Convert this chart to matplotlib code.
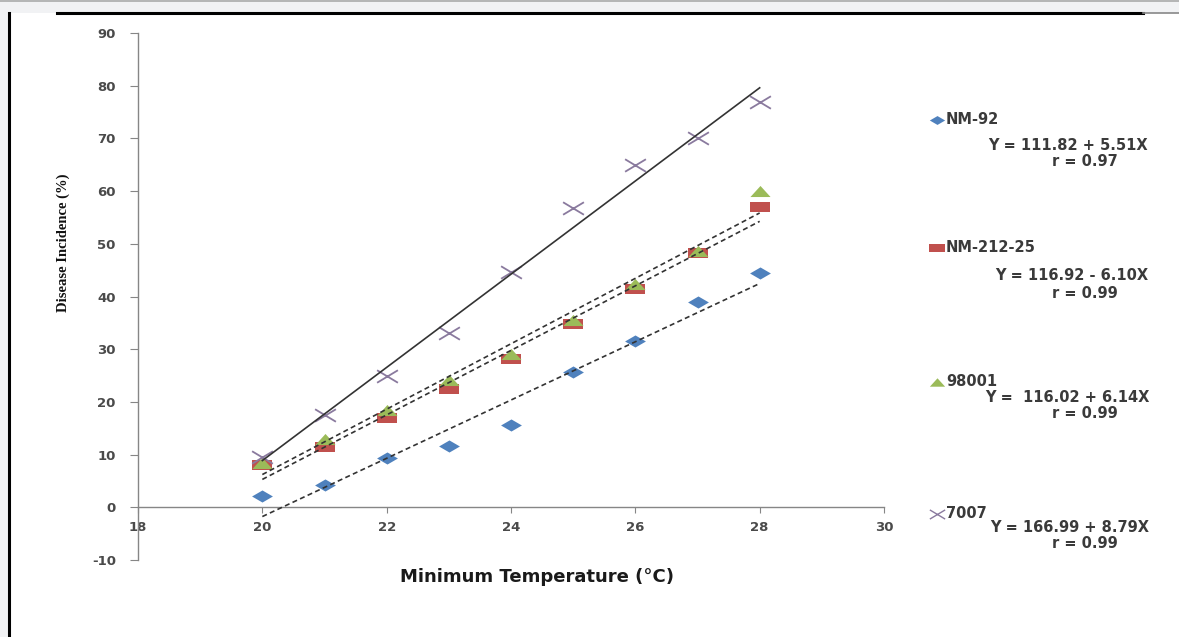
import numpy as np
import matplotlib
matplotlib.use("Agg")
import matplotlib.pyplot as plt
from matplotlib.lines import Line2D
from matplotlib.path import Path

plt.rcParams["axes.unicode_minus"] = False

temps = [20, 21, 22, 23, 24, 25, 26, 27, 28]
nm92 = [2.1, 4.2, 9.3, 11.6, 15.6, 25.6, 31.5, 38.9, 44.4]
nm21225 = [8.0, 11.4, 16.9, 22.4, 28.1, 34.7, 41.4, 48.2, 56.9]
v98001 = [8.5, 12.9, 18.4, 24.1, 29.0, 35.5, 42.3, 48.6, 60.0]
v7007 = [9.5, 17.6, 24.9, 33.0, 44.6, 56.7, 64.9, 70.0, 76.9]

names = ["NM-92", "NM-212-25", "98001", "7007"]
equations = ["Y = 111.82 + 5.51X", "Y = 116.92 - 6.10X", "Y =  116.02 + 6.14X", "Y = 166.99 + 8.79X"]
rvals = ["r = 0.97", "r = 0.99", "r = 0.99", "r = 0.99"]

xticks = [18, 20, 22, 24, 26, 28, 30]
yticks = [-10, 0, 10, 20, 30, 40, 50, 60, 70, 80, 90]

# horizontally stretched marker shapes (the reference image is widened)
diamond = Path([(-1, 0), (0, 0.58), (1, 0), (0, -0.58), (-1, 0)], closed=True)
square = Path([(-1, -0.5), (1, -0.5), (1, 0.5), (-1, 0.5), (-1, -0.5)], closed=True)
triangle = Path([(-1, -0.55), (1, -0.55), (0, 0.55), (-1, -0.55)], closed=True)
cross = Path([(-1, -0.6), (1, 0.6), (-1, 0.6), (1, -0.6)],
             [Path.MOVETO, Path.LINETO, Path.MOVETO, Path.LINETO])

W, H = 1179, 637
fig = plt.figure(figsize=(W/100, H/100), dpi=100)
fig.patch.set_facecolor("#f1f2f4")

page = fig.add_axes([9/W, 0, 1 - 9/W, 1 - 13/H])
page.set_facecolor("white")
page.set_xticks([]); page.set_yticks([])
for s in page.spines.values():
    s.set_visible(False)
page.set_zorder(0)
fig.add_artist(Line2D([9/W, 9/W], [0, 1 - 13/H], color="black", lw=2.2, transform=fig.transFigure))
fig.add_artist(Line2D([57/W, 1143/W], [1 - 13/H, 1 - 13/H], color="black", lw=2.2, transform=fig.transFigure))
fig.add_artist(Line2D([1143/W, 1], [1 - 13/H, 1 - 13/H], color="#888888", lw=1.2, transform=fig.transFigure))
fig.add_artist(Line2D([0, 1], [1 - 0.5/H, 1 - 0.5/H], color="#aaaaaa", lw=1.2, transform=fig.transFigure))

ax = fig.add_axes([138/W, (H - 560)/H, (884 - 138)/W, (560 - 33)/H])
ax.set_zorder(1)
ax.patch.set_alpha(0)
ax.set_xlim(18, 30)
ax.set_ylim(-10, 90)
ax.set_xticks(xticks)
ax.set_yticks(yticks)
ax.spines["top"].set_visible(False)
ax.spines["right"].set_visible(False)
ax.spines["bottom"].set_position(("data", 0))
for s in ("left", "bottom"):
    ax.spines[s].set_color("#868686")
    ax.spines[s].set_linewidth(1.0)
ax.tick_params(axis="both", direction="out", color="#868686", labelsize=9.5,
               labelcolor="#4a4a4a")
ax.tick_params(axis="x", length=4, pad=6)
ax.tick_params(axis="y", length=6, pad=10)
for lab in ax.get_xticklabels() + ax.get_yticklabels():
    lab.set_fontweight("bold")

series = [
    (nm92, diamond, "#4f81bd", 15, (0, (3, 2))),
    (nm21225, square, "#c0504d", 14.5, (0, (3, 2))),
    (v98001, triangle, "#9bbb59", 14.5, (0, (3, 2))),
    (v7007, cross, "#8a7a9e", 15, "-"),
]
x = np.array(temps, dtype=float)
for vals, m, c, ms, ls in series:
    k, b = np.polyfit(x, np.array(vals), 1)
    xx = np.array([20, 28.0])
    ax.plot(xx, k * xx + b, color="#333333", lw=1.2, ls=ls, zorder=3)
for vals, m, c, ms, ls in series:
    if m is cross:
        ax.plot(x, vals, ls="none", marker=m, mfc="none", mec=c, ms=ms, mew=1.3, zorder=2)
    else:
        ax.plot(x, vals, ls="none", marker=m, color=c, ms=ms, mew=0, zorder=2)

fig.text(537/W, 1 - 577/H, "Minimum Temperature (°C)", ha="center", va="center",
         fontsize=13, fontweight="bold", color="#1a1a1a")
fig.text(63/W, 1 - 243/H, "Disease Incidence (%)", rotation=90, ha="center", va="center",
         fontsize=10.5, fontweight="bold", family="Liberation Serif", color="#111111")

ys_name = [120, 248, 382, 514]
eq_y = [145, 276, 397, 528]
r_y = [162, 293, 414, 544]
eq_x = [988, 995, 985, 990]
for i, (vals, m, c, ms, ls) in enumerate(series):
    if m is cross:
        kw = dict(mfc="none", mec=c, mew=1.0)
    else:
        kw = dict(color=c, mew=0)
    fig.add_artist(Line2D([937/W], [1 - ys_name[i]/H], marker=m, ms=11, ls="none",
                          transform=fig.transFigure, **kw))
    fig.text(946/W, 1 - ys_name[i]/H, names[i], ha="left", va="center", fontsize=10.5,
             fontweight="bold", color="#3a3a3a")
    fig.text(eq_x[i]/W, 1 - eq_y[i]/H, equations[i], ha="left", va="center", fontsize=10.5,
             fontweight="bold", color="#3a3a3a")
    fig.text(1085/W, 1 - r_y[i]/H, rvals[i], ha="center", va="center", fontsize=10.5,
             fontweight="bold", color="#3a3a3a")

fig.savefig("out.png", dpi=100)
